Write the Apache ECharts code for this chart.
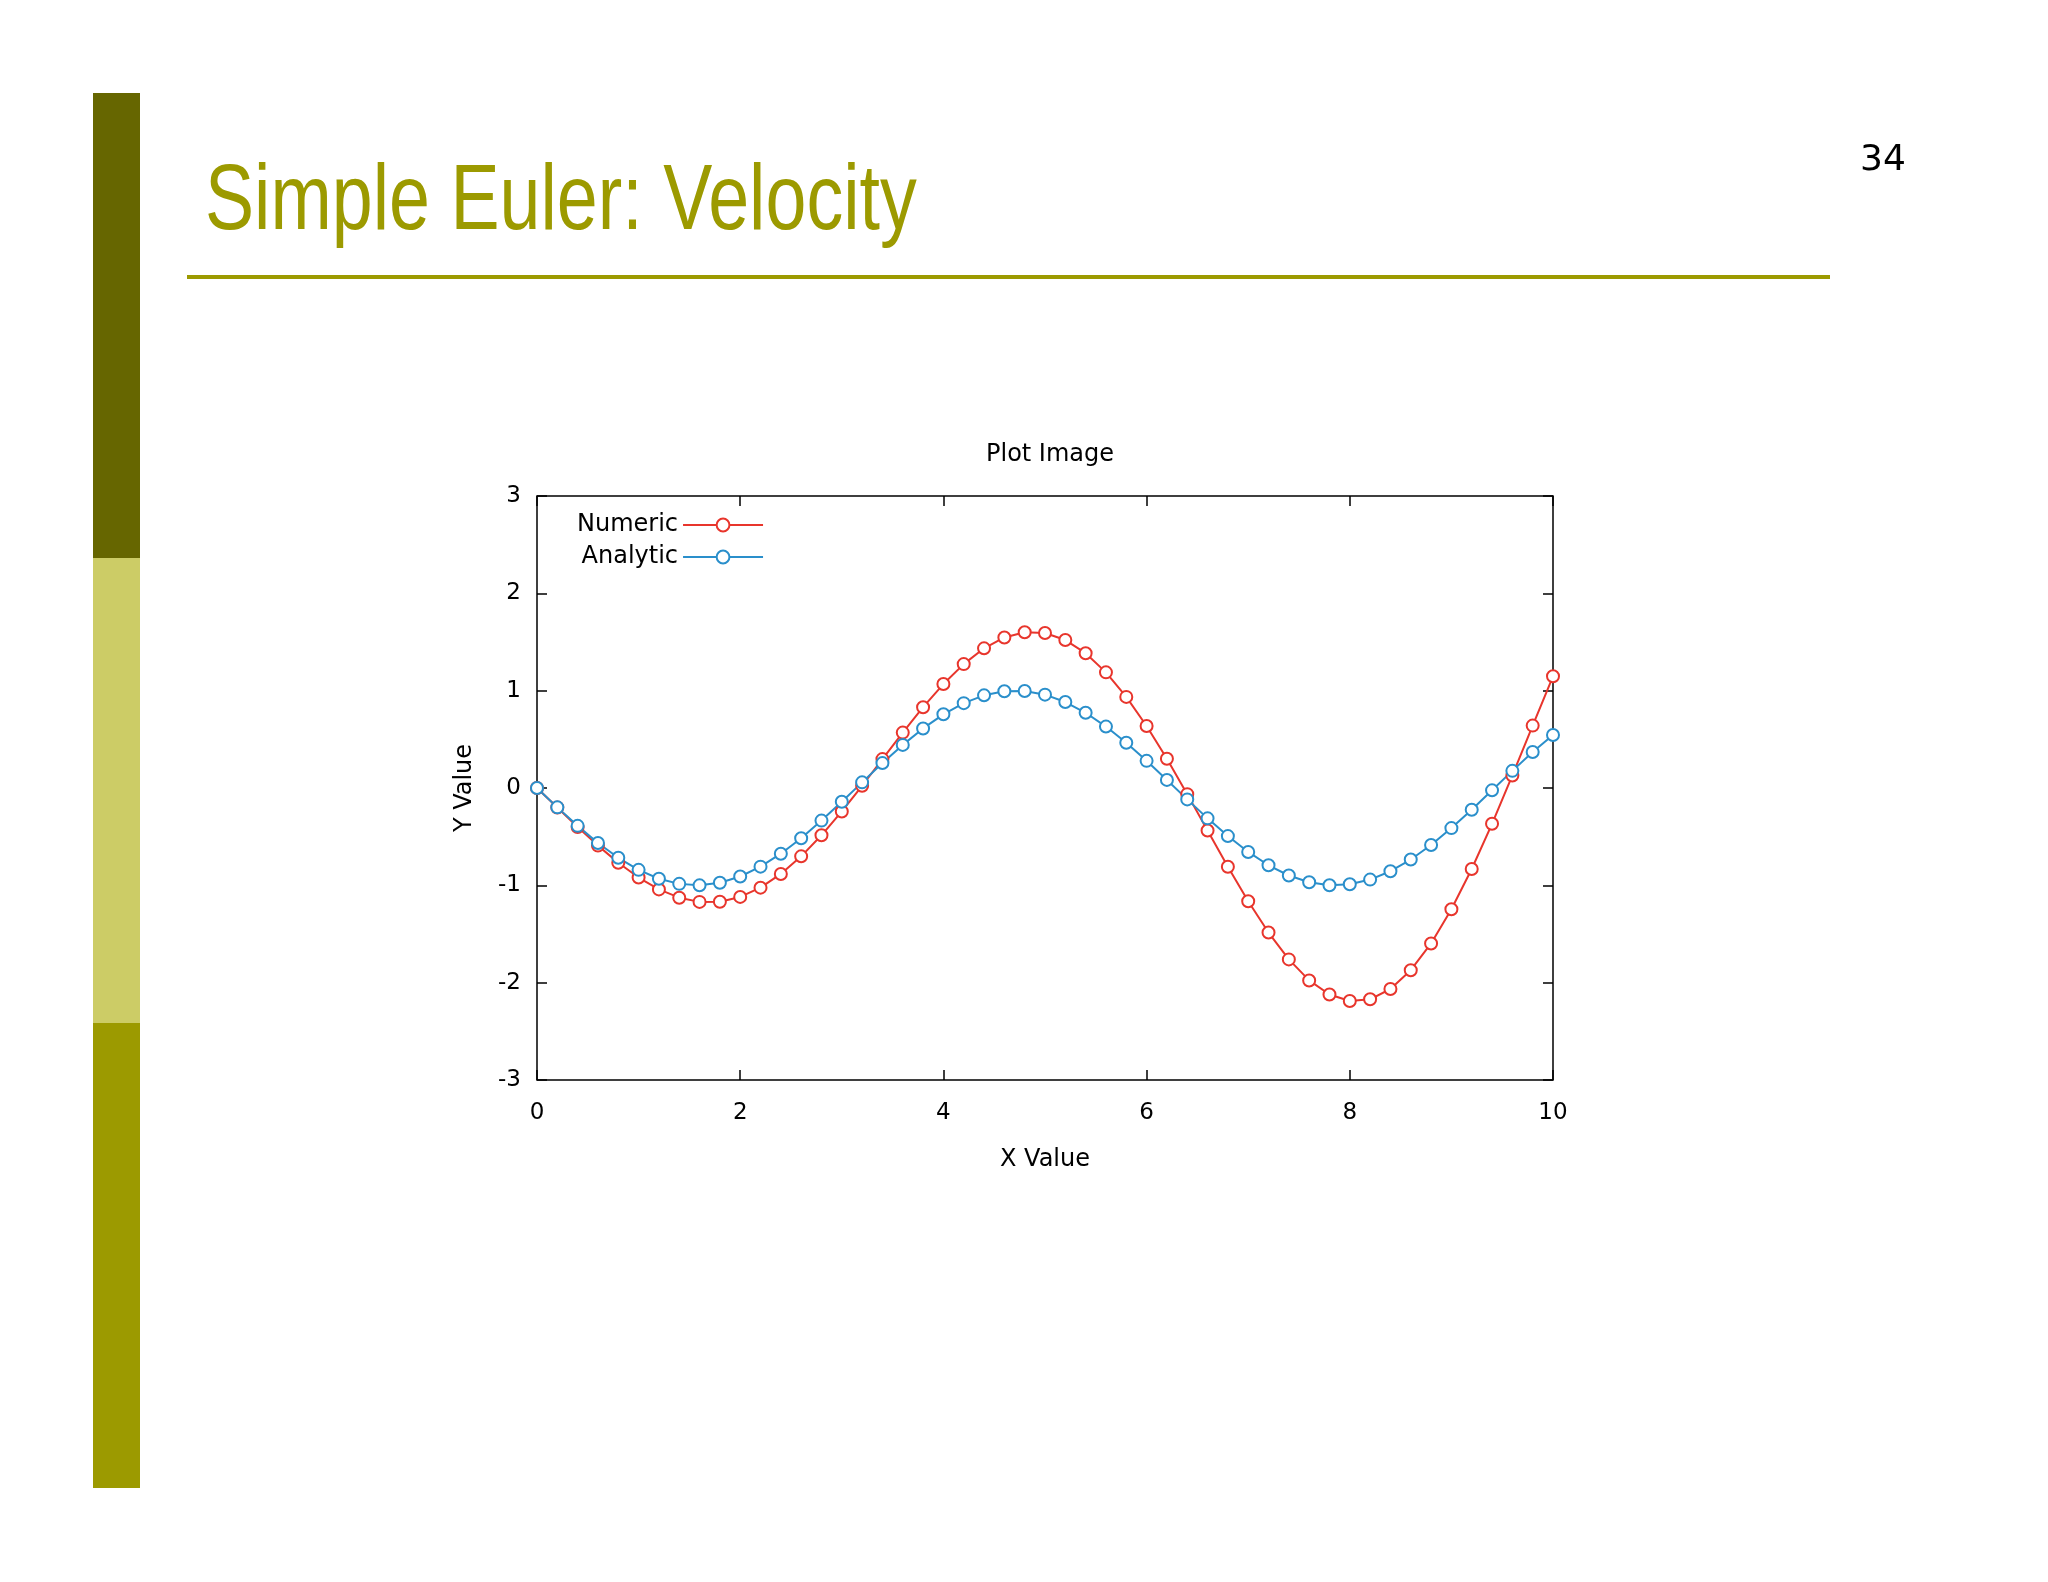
<!DOCTYPE html>
<html>
<head>
<meta charset="utf-8">
<script src="https://cdn.jsdelivr.net/npm/echarts@6/dist/echarts.min.js"></script>
<style>
  html, body { margin: 0; padding: 0; background: #fff; }
  #chart { width: 2048px; height: 1582px; }
</style>
</head>
<body>
<div id="chart"></div>
<script>
// x values, step 0.2 from 0 to 10
const xValues = [0,0.2,0.4,0.6,0.8,1,1.2,1.4,1.6,1.8,2,2.2,2.4,2.6,2.8,3,3.2,3.4,3.6,3.8,4,4.2,4.4,4.6,4.8,5,
  5.2,5.4,5.6,5.8,6,6.2,6.4,6.6,6.8,7,7.2,7.4,7.6,7.8,8,8.2,8.4,8.6,8.8,9,9.2,9.4,9.6,9.8,10]
const numeric = [0,-0.2,-0.4,-0.592,-0.768,-0.92,-1.042,-1.127,-1.17,-1.168,-1.119,-1.024,-0.883,-0.702,-0.486,-0.241,
  0.023,0.297,0.569,0.83,1.068,1.273,1.435,1.547,1.6,1.592,1.52,1.385,1.188,0.936,0.637,0.3,-0.063,-0.437,-0.809,
  -1.163,-1.485,-1.761,-1.977,-2.122,-2.189,-2.171,-2.065,-1.872,-1.597,-1.246,-0.832,-0.368,0.129,0.641,1.148]
const analytic = [0,-0.199,-0.389,-0.565,-0.717,-0.841,-0.932,-0.985,-1,-0.974,-0.909,-0.808,-0.675,-0.516,-0.335,-0.141,
  0.058,0.256,0.443,0.612,0.757,0.872,0.952,0.994,0.996,0.959,0.883,0.773,0.631,0.465,0.279,0.083,-0.117,-0.312,-0.494,
  -0.657,-0.794,-0.899,-0.968,-0.999,-0.989,-0.941,-0.855,-0.735,-0.585,-0.412,-0.223,-0.024,0.176,0.37,0.544]

const chart = echarts.init(document.getElementById('chart'))
const font = 'DejaVu Sans'
const pairs = arr => arr.map((v, i) => [xValues[i], v])

const axisCommon = {
  axisLine: { show: false, onZero: false },
  axisTick: { inside: true, length: 10, lineStyle: { color: '#000', width: 1.5 } },
  splitLine: { show: false },
  axisLabel: { color: '#000', fontFamily: font, fontSize: 23 }
}

const options = {
  backgroundColor: '#fff',
  animation: false,
  title: [
    { text: '34', left: 1855, top: 138,
      textStyle: { color: '#000', fontFamily: font, fontSize: 36, fontWeight: 'normal' } },
    { text: 'Plot Image', left: 1045, top: 438, textAlign: 'center',
      textStyle: { color: '#000', fontFamily: font, fontSize: 24, fontWeight: 'normal' } }
  ],
  legend: {
    left: 572, top: 508, orient: 'vertical', align: 'right', itemGap: 8,
    itemWidth: 80, itemHeight: 16,
    textStyle: { fontFamily: font, fontSize: 24, color: '#000' }
  },
  grid: { left: 537, top: 496, width: 1016, height: 584, show: true, borderColor: '#000', borderWidth: 1.5 },
  xAxis: [
    Object.assign({}, axisCommon, { type: 'value', min: 0, max: 10, interval: 2,
      name: 'X Value', nameLocation: 'middle', nameGap: 68,
      nameTextStyle: { fontFamily: font, fontSize: 24, color: '#000' },
      axisLabel: Object.assign({}, axisCommon.axisLabel, { margin: 22 }) }),
    Object.assign({}, axisCommon, { type: 'value', min: 0, max: 10, interval: 2, position: 'top',
      axisLabel: { show: false } })
  ],
  yAxis: [
    Object.assign({}, axisCommon, { type: 'value', min: -3, max: 3, interval: 1,
      name: 'Y Value', nameLocation: 'middle', nameGap: 60,
      nameTextStyle: { fontFamily: font, fontSize: 24, color: '#000' },
      axisLabel: Object.assign({}, axisCommon.axisLabel, { margin: 16 }) }),
    Object.assign({}, axisCommon, { type: 'value', min: -3, max: 3, interval: 1, position: 'right',
      axisLabel: { show: false } })
  ],
  series: [
    { name: 'Numeric', type: 'line', data: pairs(numeric), symbol: 'emptyCircle', symbolSize: 12,
      itemStyle: { color: '#e8352c', borderWidth: 1.5 }, lineStyle: { color: '#e8352c', width: 2 } },
    { name: 'Analytic', type: 'line', data: pairs(analytic), symbol: 'emptyCircle', symbolSize: 12,
      itemStyle: { color: '#2a8fcb', borderWidth: 1.5 }, lineStyle: { color: '#2a8fcb', width: 2 } }
  ],
  graphic: [
    { type: 'rect', shape: { x: 93, y: 93, width: 47, height: 465 }, style: { fill: '#666600' } },
    { type: 'rect', shape: { x: 93, y: 558, width: 47, height: 465 }, style: { fill: '#cccc66' } },
    { type: 'rect', shape: { x: 93, y: 1023, width: 47, height: 465 }, style: { fill: '#9c9a00' } },
    { type: 'rect', shape: { x: 187, y: 275, width: 1643, height: 4 }, style: { fill: '#9c9a00' } },
    { type: 'text', x: 205, y: 250, scaleX: 0.8,
      style: { text: 'Simple Euler: Velocity', fill: '#9c9a00', fontFamily: 'Liberation Sans',
        fontSize: 92, textVerticalAlign: 'bottom' } }
  ]
}

chart.setOption(options)
</script>
</body>
</html>
